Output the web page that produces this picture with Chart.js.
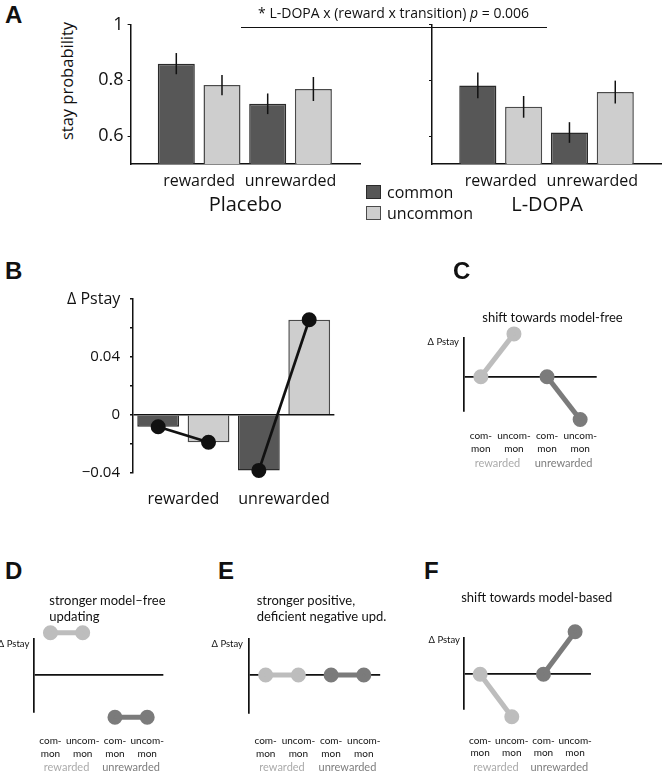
<!DOCTYPE html>
<html>
<head>
<meta charset="utf-8">
<title>Stay probability under placebo and L-DOPA</title>
<script src="https://cdn.jsdelivr.net/npm/chart.js@4.4.1/dist/chart.umd.min.js"></script>
<style>
  html, body { margin: 0; padding: 0; background: #fff; }
  #page { position: relative; width: 662px; height: 772px; overflow: hidden; font-family: "Open Sans", sans-serif; color: #111; }
  #page canvas { position: absolute; }
  .t { position: absolute; white-space: nowrap; line-height: 1; }
  .letter { font: bold 24px "Liberation Sans", Arial, sans-serif; }
  .scheme { font-family: Lato, sans-serif; }
  .swatch { position: absolute; width: 15px; height: 14px; box-sizing: border-box; border: 1.5px solid #333; }
</style>
</head>
<body>
<div id="page">
  <canvas id="placebo" width="285" height="230" style="left:85px;top:0"></canvas>
  <canvas id="ldopa" width="242" height="230" style="left:420px;top:0"></canvas>
  <canvas id="delta" width="290" height="230" style="left:60px;top:280px"></canvas>
  <canvas id="schemeC" width="180" height="172" style="left:440px;top:300px"></canvas>
  <canvas id="schemeD" width="180" height="172" style="left:10px;top:600px"></canvas>
  <canvas id="schemeE" width="180" height="172" style="left:225px;top:600px"></canvas>
  <canvas id="schemeF" width="180" height="172" style="left:440px;top:600px"></canvas>

  <div class="t letter" style="left:5px;top:1px">A</div>
  <div class="t" style="left:67px;top:80.5px;font-size:16.5px;transform:translate(-50%,-50%) rotate(-90deg)">stay probability</div>
  <div class="t" style="left:393.6px;top:6.3px;font-size:14px;transform:translateX(-50%)">* L-DOPA x (reward x transition) <i>p</i> = 0.006</div>
  <div style="position:absolute;left:241px;top:27.4px;width:305.5px;border-top:1.2px solid #111"></div>
  <div id="legend"></div>

  <div class="t letter" style="left:5px;top:257px">B</div>
  <div class="t" style="left:67px;top:290.3px;font-size:16px">&Delta; Pstay</div>

  <div class="t letter" style="left:453px;top:257px">C</div>
  <div class="t scheme" style="left:552.5px;top:310.6px;font-size:13px;transform:translateX(-50%)">shift towards model-free</div>
  <div class="t scheme" style="right:203px;top:337px;font-size:9.5px">&Delta; Pstay</div>

  <div class="t letter" style="left:5px;top:557px">D</div>
  <div class="t scheme" style="left:49.3px;top:591.7px;font-size:13px;line-height:16.7px">stronger model&ndash;free<br>updating</div>
  <div class="t scheme" style="right:632.7px;top:638.5px;font-size:9.5px">&Delta; Pstay</div>

  <div class="t letter" style="left:218px;top:557px">E</div>
  <div class="t scheme" style="left:256.7px;top:591.7px;font-size:13px;line-height:16.7px">stronger positive,<br>deficient negative upd.</div>
  <div class="t scheme" style="right:419px;top:638.5px;font-size:9.5px">&Delta; Pstay</div>

  <div class="t letter" style="left:424px;top:557px">F</div>
  <div class="t scheme" style="left:536.7px;top:590.6px;font-size:13px;transform:translateX(-50%)">shift towards model-based</div>
  <div class="t scheme" style="right:202px;top:634.5px;font-size:9.5px">&Delta; Pstay</div>
</div>

<script>
// ---- data ----
const groups = ['rewarded', 'unrewarded'];
const transitions = ['common', 'uncommon'];
const stayTicks = [0.6, 0.8, 1];

const placeboCommon = [0.86, 0.716];
const placeboUncommon = [0.783, 0.769];
const placeboCommonErr = [0.038, 0.037];
const placeboUncommonErr = [0.036, 0.043];

const ldopaCommon = [0.782, 0.613];
const ldopaUncommon = [0.705, 0.758];
const ldopaCommonErr = [0.046, 0.037];
const ldopaUncommonErr = [0.039, 0.041];

const deltaTicks = [-0.04, -0.02, 0, 0.02, 0.04, 0.06, 0.08];
const deltaLabelled = [-0.04, 0, 0.04];
const deltaCommon = [-0.0083, -0.0384];
const deltaUncommon = [-0.019, 0.0657];

const schemeLabels = [['com-', 'mon'], ['uncom-', 'mon'], ['com-', 'mon'], ['uncom-', 'mon']];
// predicted change in stay probability (arbitrary units), common / uncommon
const modelFreeRewarded = [0, 1], modelFreeUnrewarded = [0, -1];
const strongerRewarded = [1, 1], strongerUnrewarded = [-1, -1];
const positiveRewarded = [0, 0], positiveUnrewarded = [0, 0];
const modelBasedRewarded = [0, -1], modelBasedUnrewarded = [0, 1];

// ---- styling ----
const INK = '#111';
const DARK = '#575757', DARK_EDGE = '#2a2a2a';
const LIGHT = '#cecece', LIGHT_EDGE = '#4a4a4a';
const SCH_LIGHT = '#bdbdbd', SCH_DARK = '#7b7b7b';
const groupColors = ['#ababab', '#7d7d7d'];

Chart.defaults.font.family = "'Open Sans', sans-serif";
Chart.defaults.color = INK;
Chart.defaults.animation = false;
Chart.defaults.events = [];
Chart.defaults.plugins.legend.display = false;
Chart.defaults.plugins.tooltip.enabled = false;

// legend between the two panel A charts
const legend = document.getElementById('legend');
[[DARK, DARK_EDGE], [LIGHT, LIGHT_EDGE]].forEach((c, i) => {
    const top = 185 + i * 21;
    legend.innerHTML += `<div class="swatch" style="left:366px;top:${top}px;background:${c[0]};border-color:${c[1]}"></div>` +
        `<div class="t" style="left:387px;top:${top - 1}px;font-size:16px">${transitions[i]}</div>`;
});

const errorBars = {
    id: 'errorBars',
    afterDatasetsDraw(chart) {
        const ctx = chart.ctx;
        const y = chart.scales.y;
        chart.data.datasets.forEach((ds, i) => {
            if (!ds.errors) return;
            chart.getDatasetMeta(i).data.forEach((bar, j) => {
                const v = ds.data[j].y;
                const e = ds.errors[j];
                ctx.save();
                ctx.strokeStyle = INK;
                ctx.lineWidth = 1.5;
                ctx.beginPath();
                ctx.moveTo(bar.x, y.getPixelForValue(v + e));
                ctx.lineTo(bar.x, y.getPixelForValue(v - e));
                ctx.stroke();
                ctx.restore();
            });
        });
    }
};

function stayChart(id, common, uncommon, commonErr, uncommonErr, title, yWidth, padRight, showLabels) {
    return new Chart(document.getElementById(id), {
        type: 'bar',
        data: {
            datasets: [
                {
                    label: transitions[0], errors: commonErr,
                    data: groups.map((g, i) => ({ x: i + 1, y: common[i] })),
                    backgroundColor: DARK, borderColor: DARK_EDGE, borderWidth: 1.5
                },
                {
                    label: transitions[1], errors: uncommonErr,
                    data: groups.map((g, i) => ({ x: i + 1, y: uncommon[i] })),
                    backgroundColor: LIGHT, borderColor: LIGHT_EDGE, borderWidth: 1.5
                }
            ]
        },
        options: {
            responsive: false,
            devicePixelRatio: 1,
            layout: { padding: { left: 0, top: 24.6, right: padRight, bottom: 0 } },
            datasets: { bar: { categoryPercentage: 1, barPercentage: 0.81 } },
            scales: {
                x: {
                    type: 'linear', min: 0.25, max: 2.76, offset: false,
                    grid: { display: false, drawTicks: false, offset: false },
                    border: { color: INK, width: 1.5 },
                    afterBuildTicks: s => { s.ticks = groups.map((g, i) => ({ value: i + 1 })); },
                    afterFit: s => { s.height = 66; },
                    ticks: { callback: v => groups[v - 1], padding: 8, font: { size: 16 }, maxRotation: 0, autoSkip: false },
                    title: { display: true, text: title, font: { size: 20 }, padding: { top: 0, bottom: 13 } }
                },
                y: {
                    min: 0.5, max: 1,
                    afterBuildTicks: s => { s.ticks = stayTicks.map(v => ({ value: v })); },
                    afterFit: s => { s.width = yWidth; },
                    grid: { drawOnChartArea: false, tickLength: 3, color: INK },
                    border: { color: INK, width: 1.5 },
                    ticks: { display: showLabels, padding: 4, font: { size: 18 }, callback: v => String(v) }
                }
            }
        },
        plugins: [errorBars]
    });
}

stayChart('placebo', placeboCommon, placeboUncommon, placeboCommonErr, placeboUncommonErr, 'Placebo', 45.6, 10, true);
stayChart('ldopa', ldopaCommon, ldopaUncommon, ldopaCommonErr, ldopaUncommonErr, 'L-DOPA', 12, 0, false);

// panel B: L-DOPA minus placebo
const half = 1 / (2 * transitions.length); // bar centre offset from its group centre
const fmtDelta = v => v === 0 ? '0' : (v < 0 ? '\u2212' : '') + Math.abs(v).toFixed(2);

new Chart(document.getElementById('delta'), {
    type: 'bar',
    data: {
        datasets: [
            ...groups.map((g, i) => ({
                type: 'line', order: 0, clip: false,
                data: [{ x: i + 1 - half, y: deltaCommon[i] }, { x: i + 1 + half, y: deltaUncommon[i] }],
                borderColor: INK, borderWidth: 2.7,
                pointRadius: 4.5, pointBorderWidth: 6, pointBackgroundColor: INK, pointBorderColor: INK
            })),
            {
                label: transitions[0], order: 1,
                data: groups.map((g, i) => ({ x: i + 1, y: deltaCommon[i] })),
                backgroundColor: DARK, borderColor: DARK_EDGE, borderWidth: 1.5
            },
            {
                label: transitions[1], order: 1,
                data: groups.map((g, i) => ({ x: i + 1, y: deltaUncommon[i] })),
                backgroundColor: LIGHT, borderColor: LIGHT_EDGE, borderWidth: 1.5
            }
        ]
    },
    options: {
        responsive: false,
        devicePixelRatio: 1,
        layout: { padding: { left: 0, top: 19, right: 14, bottom: 0 } },
        datasets: { bar: { categoryPercentage: 1, barPercentage: 0.83 } },
        scales: {
            x: {
                type: 'linear', min: 0.5, max: 2.5, offset: false,
                grid: { display: false, drawTicks: false, offset: false },
                border: { display: false },
                afterBuildTicks: s => { s.ticks = groups.map((g, i) => ({ value: i + 1 })); },
                afterFit: s => { s.height = 37.3; },
                ticks: { callback: v => groups[v - 1], padding: 16.7, font: { size: 16 }, maxRotation: 0, autoSkip: false }
            },
            y: {
                min: -0.04, max: 0.08,
                afterBuildTicks: s => { s.ticks = deltaTicks.map(v => ({ value: v })); },
                afterFit: s => { s.width = 73; },
                grid: {
                    color: c => (c.tick && c.tick.value === 0) ? INK : 'rgba(0,0,0,0)',
                    tickColor: INK, tickLength: 3, lineWidth: 1.5
                },
                border: { color: INK, width: 1.5 },
                ticks: { padding: 10, font: { size: 15 }, callback: v => deltaLabelled.includes(v) ? fmtDelta(v) : '' }
            }
        }
    }
});

// panels C-F: schematic predictions
function schemeChart(id, rewarded, unrewarded, yMin, yMax, pad, labelPad, axisH, groupH) {
    return new Chart(document.getElementById(id), {
        type: 'line',
        data: {
            labels: schemeLabels,
            datasets: [
                { data: [...rewarded, null, null], borderColor: SCH_LIGHT, pointBackgroundColor: SCH_LIGHT, pointBorderColor: SCH_LIGHT },
                { data: [null, null, ...unrewarded], borderColor: SCH_DARK, pointBackgroundColor: SCH_DARK, pointBorderColor: SCH_DARK }
            ]
        },
        options: {
            responsive: false,
            devicePixelRatio: 1,
            layout: { padding: { left: pad[0], top: pad[1], right: pad[2], bottom: 0 } },
            elements: {
                line: { borderWidth: 5, tension: 0 },
                // a thick border of the same colour keeps dots that sit outside the axis range drawn
                point: { radius: 4.5, borderWidth: 6 }
            },
            datasets: { line: { clip: false } },
            scales: {
                x: {
                    offset: true, weight: 0,
                    grid: { display: false, drawTicks: false },
                    border: { display: false },
                    afterFit: s => { s.height = axisH; },
                    ticks: { padding: labelPad, font: { family: 'Lato', size: 10, lineHeight: 1.23 }, maxRotation: 0, autoSkip: false }
                },
                groups: {
                    type: 'category', labels: groups, position: 'bottom', offset: true, weight: 1,
                    grid: { display: false, drawTicks: false },
                    border: { display: false },
                    afterFit: s => { s.height = groupH; },
                    ticks: { padding: 0, font: { family: 'Lato', size: 11 }, color: c => groupColors[c.index], maxRotation: 0 }
                },
                y: {
                    min: yMin, max: yMax,
                    afterBuildTicks: s => { s.ticks = [{ value: 0 }]; },
                    afterFit: s => { s.width = 0; },
                    grid: { color: INK, lineWidth: 1.7, drawTicks: false },
                    border: { color: INK, width: 1.7 },
                    ticks: { display: false }
                }
            }
        }
    });
}

schemeChart('schemeC', modelFreeRewarded, modelFreeUnrewarded, -0.801, 0.904, [24.3, 38, 23.3], 18.85, 45.7, 15.3);
schemeChart('schemeD', strongerRewarded, strongerUnrewarded, -0.87, 0.846, [24.3, 39.3, 23.3], 23.15, 49.4, 10.9);
schemeChart('schemeE', positiveRewarded, positiveUnrewarded, -0.9, 0.847, [24.3, 39, 23.3], 21.55, 47.8, 10.9);
schemeChart('schemeF', modelBasedRewarded, modelBasedUnrewarded, -0.824, 0.847, [24.3, 38.3, 23.3], 25.25, 51.8, 10.9);
</script>
</body>
</html>
